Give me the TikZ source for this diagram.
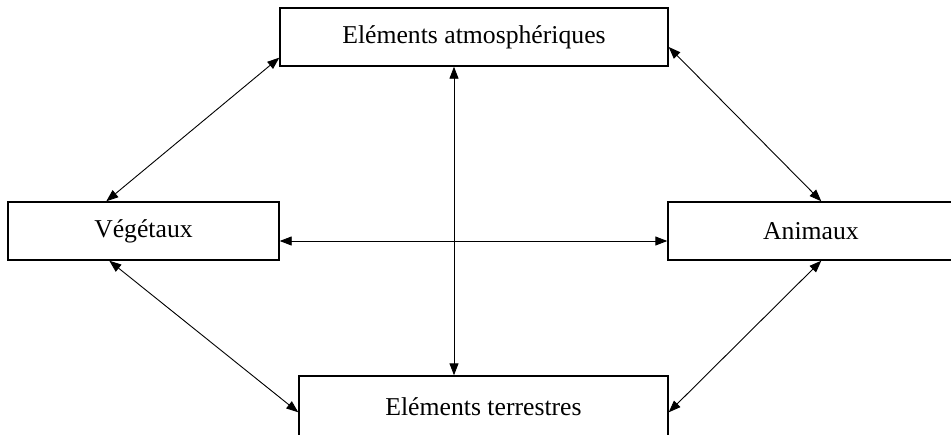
\documentclass[tikz,border=0pt]{standalone}
\usepackage{fontspec}
\setmainfont{Liberation Serif}
\usepackage{tikz}
\usetikzlibrary{calc,arrows.meta}

\tikzset{
	boite/.style={draw, line width=1.4pt, inner sep=0pt, minimum height=58pt,
		font=\fontsize{25.7}{30}\selectfont},
	lien/.style={{Triangle[length=12pt,width=9pt]}-{Triangle[length=12pt,width=9pt]}, line width=0.9pt}
}

\begin{document}
\begin{tikzpicture}[x=1pt, y=-1pt]
		
		% 1. Cadre de la figure (951 x 434)
		\clip (0,0) rectangle (951,434);
		\fill[white] (0,0) rectangle (951,434);
		
		% 2. Les quatre boites
		\node[boite, minimum width=388pt] (atmo) at (474,37) {Eléments atmosphériques};
		\node[boite, minimum width=271pt] (veget) at (143.5,231) {Végétaux};
		\node[boite, minimum width=286pt] (anim) at (811,231) {Animaux};
		\node[boite, minimum width=369pt, minimum height=62pt] (terre) at (483.5,407) {Eléments terrestres};
		
		% axe vertical du milieu
		\coordinate (axe) at (454,0);
		
		% 3. Fleches doubles
		\draw[lien] ($(atmo.south west)+(0,-9)$) -- ($(veget.north west)+(99,0)$);
		\draw[lien] ($(atmo.east)+(0,10)$) -- ($(anim.north west)+(154,0)$);
		\draw[lien] (atmo.south -| axe) -- (terre.north -| axe);
		\draw[lien] ($(veget.east)+(0,10)$) -- ($(anim.west)+(0,10)$);
		\draw[lien] ($(veget.south west)+(102,0)$) -- ($(terre.north west)+(0,37)$);
		\draw[lien] ($(anim.south west)+(154,0)$) -- ($(terre.north east)+(0,37)$);
		
	\end{tikzpicture}
\end{document}
